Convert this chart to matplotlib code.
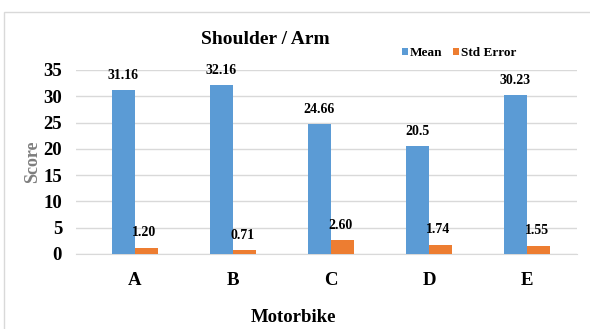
import numpy as np
import matplotlib.pyplot as plt
from matplotlib.patches import Rectangle

plt.rcParams['font.family'] = ['Liberation Serif', 'DejaVu Serif']
plt.rcParams['font.weight'] = 'bold'

# Scores per motorbike
bikes = ['A', 'B', 'C', 'D', 'E']
mean = [31.16, 32.16, 24.66, 20.5, 30.23]
std_err = [1.20, 0.71, 2.60, 1.74, 1.55]
mean_labels = ['31.16', '32.16', '24.66', '20.5', '30.23']
err_labels = ['1.20', '0.71', '2.60', '1.74', '1.55']

blue = '#5B9BD5'
orange = '#ED7D31'

fig = plt.figure(figsize=(5.9, 3.29), dpi=100)
ax = fig.add_axes([76 / 590, 75 / 329, 501 / 590, 184 / 329])

# light frame around the chart area
fig.patches.append(Rectangle((4 / 590, -0.01), 1.0, 1 - 12 / 329 + 0.01,
                             transform=fig.transFigure, fill=False,
                             edgecolor='#D9D9D9', linewidth=1))

x = np.arange(len(bikes))
w = 0.235
ax.bar(x - w / 2, mean, w, color=blue, label='Mean', zorder=3)
ax.bar(x + w / 2, std_err, w, color=orange, label='Std Error', zorder=3)

for xi, v, t in zip(x, mean, mean_labels):
    ax.text(xi - w / 2, v + 1.5, t, ha='center', va='bottom', fontsize=10,
            fontweight='bold')
for xi, v, t in zip(x, std_err, err_labels):
    ax.text(xi + w / 2 - 0.02, v + 1.6, t, ha='center', va='bottom', fontsize=10,
            fontweight='bold')

ax.set_xlim(-0.602, 4.51)
ax.set_ylim(0, 35)
ax.set_yticks(range(0, 36, 5))
ax.set_xticks(x)
ax.set_xticklabels(bikes)
ax.tick_params(axis='both', length=0, labelsize=13.5)
ax.tick_params(axis='x', pad=13)
ax.tick_params(axis='y', pad=10)
ax.grid(axis='y', color='#D9D9D9', linewidth=1, zorder=0)
for s in ['top', 'right', 'left']:
    ax.spines[s].set_visible(False)
ax.spines['bottom'].set_color('#D9D9D9')

ax.set_ylabel('Score', color='#7F7F7F', fontsize=13, fontweight='bold', labelpad=2)

fig.text(293 / 590, 1 - 318 / 329, 'Motorbike', ha='center', va='center',
         fontsize=13.5, fontweight='bold')
fig.text(265 / 590, 1 - 40 / 329, 'Shoulder / Arm', ha='center', va='center',
         fontsize=14, fontweight='bold')

fig.legend(loc='center right', bbox_to_anchor=(524 / 590, 1 - 53 / 329), ncol=2,
           frameon=False, fontsize=9.5, handlelength=0.5, handleheight=0.5,
           handletextpad=0.1, columnspacing=0.8, borderpad=0.1)

fig.savefig('out.png', dpi=100)
